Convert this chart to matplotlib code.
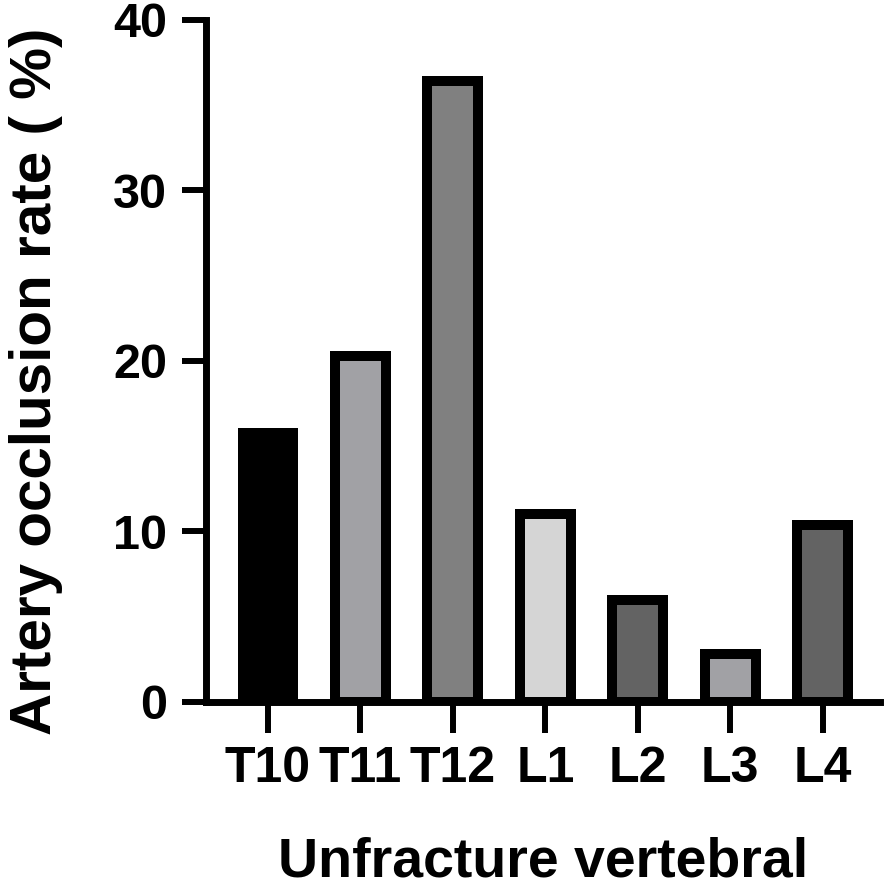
import matplotlib
matplotlib.use('Agg')
import matplotlib.pyplot as plt

# Data
categories = ['T10', 'T11', 'T12', 'L1', 'L2', 'L3', 'L4']
rates = [15.8, 20.3, 36.4, 11.0, 6.0, 2.8, 10.4]
bar_colors = ['#000000', '#a1a1a5', '#808080', '#d5d5d5', '#636363', '#a1a1a5', '#636363']
y_ticks = [0, 10, 20, 30, 40]

plt.rcParams['font.family'] = ['Liberation Sans', 'DejaVu Sans']

dpi = 100
fig = plt.figure(figsize=(8.94, 8.94), dpi=dpi)
ax = fig.add_axes([0.2304, 0.2148, 0.754, 0.7629])

x = range(len(categories))
ax.bar(x, rates, width=0.55, color=bar_colors, edgecolor='black', linewidth=7.2, zorder=2)

ax.set_xlim(-0.67, 6.62)
ax.set_ylim(0, 40)
ax.set_yticks(y_ticks)
ax.set_xticks(list(x))
ax.set_xticklabels(categories)

for s in ['top', 'right']:
    ax.spines[s].set_visible(False)
for s in ['left', 'bottom']:
    ax.spines[s].set_linewidth(5)
    ax.spines[s].set_capstyle('projecting')

ax.tick_params(axis='y', length=17, width=4.3, pad=11, labelsize=35)
ax.tick_params(axis='x', length=22, width=4.3, pad=10, labelsize=36)
for lab in ax.get_xticklabels() + ax.get_yticklabels():
    lab.set_fontweight('bold')

ax.set_xlabel('Unfracture vertebral', fontsize=40, fontweight='bold', labelpad=32)
ax.set_ylabel('Artery occlusion rate ( %)', fontsize=42, fontweight='bold')
ax.yaxis.set_label_coords(-0.212, 0.47)

fig.savefig('out.png', dpi=dpi, facecolor='white')
